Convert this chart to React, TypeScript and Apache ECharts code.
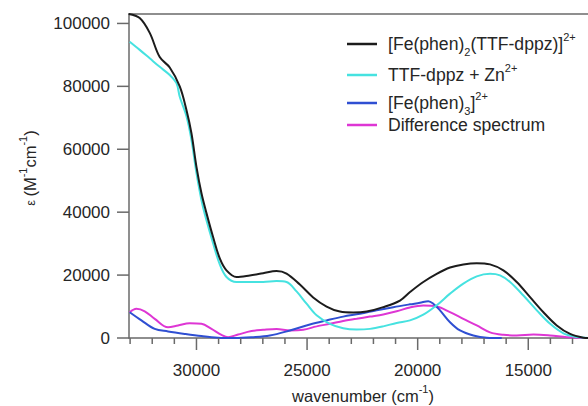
import React, { useEffect, useRef } from "react";
import * as echarts from "echarts";

// ---- data (wavenumber in cm^-1, epsilon in M^-1 cm^-1) ----
const blackWn = [33063, 32566, 32113, 31661, 31208, 30756, 30453, 30227, 30000, 29774, 29548, 29249, 28946, 28643, 28191, 27588, 26986, 26380, 25928, 25326, 24724, 24118, 23516, 22914, 22307, 21556, 20801, 20348, 19746, 19140, 18538, 17936, 17330, 16728, 16126, 15522, 14919, 14316, 13712, 13110, 12506, 12294];
const blackEps = [103000, 101700, 97000, 89300, 86000, 80000, 72500, 65100, 54400, 46000, 39700, 32100, 25300, 21500, 19400, 19900, 20600, 21300, 20500, 17000, 12900, 10000, 8400, 8100, 8400, 9800, 11900, 14600, 17800, 20400, 22400, 23400, 23800, 23400, 21500, 17800, 13000, 8200, 4000, 1300, 100, 0];

const cyanWn = [33018, 32566, 32113, 31661, 31208, 30905, 30756, 30453, 30227, 30000, 29774, 29548, 29249, 28946, 28643, 28191, 27588, 26986, 26380, 25928, 25475, 25023, 24570, 23968, 23367, 22760, 22158, 21556, 20950, 20348, 19746, 19140, 18538, 17936, 17330, 16728, 16276, 15823, 15221, 14615, 14012, 13410, 12805, 12294];
const cyanEps = [94200, 91600, 88900, 86200, 83600, 81000, 76700, 70500, 63000, 52400, 43800, 37400, 30100, 23400, 19400, 17800, 17800, 17800, 18100, 17800, 14800, 10900, 7200, 4500, 3100, 2700, 2900, 3700, 4800, 5600, 7400, 10400, 14100, 17300, 19600, 20400, 19900, 17800, 13500, 8800, 4500, 1500, 300, 0];

const blueWn = [33018, 32489, 31887, 31285, 30529, 29774, 29023, 28267, 27511, 26683, 25778, 24873, 24118, 23367, 22611, 21855, 21104, 20348, 19896, 19520, 19294, 18991, 18538, 18086, 17484, 16878, 16200];
const blueEps = [8200, 5600, 2900, 2100, 1300, 600, 100, 0, 250, 800, 2400, 4300, 5600, 6800, 7700, 8800, 9800, 10700, 11200, 11700, 10900, 8800, 5000, 2400, 800, 100, 0];

const diffWn = [33018, 32715, 32339, 31887, 31285, 30833, 30303, 29774, 29321, 28869, 28570, 28118, 27511, 26986, 26380, 25778, 25175, 24570, 23968, 23367, 22760, 22158, 21556, 20950, 20348, 19746, 19140, 18538, 17936, 17330, 16728, 16126, 15522, 14767, 14012, 13257, 12506, 12294];
const diffEps = [8200, 9300, 8500, 6100, 3400, 4000, 4700, 4500, 2900, 1000, 250, 1100, 2200, 2600, 2900, 2400, 2600, 3700, 4500, 5400, 6100, 6800, 7500, 8500, 9700, 10300, 10000, 8200, 6100, 4000, 1800, 1000, 800, 1100, 800, 250, 0, 0];

// tick values
const xMajorTicks = [15000, 20000, 25000, 30000];
const xMinorTicks = [13000, 14000, 16000, 17000, 18000, 19000, 21000, 22000, 23000, 24000, 26000, 27000, 28000, 29000, 31000, 32000, 33000];
const yTicks = [0, 20000, 40000, 60000, 80000, 100000];

// axis ranges
const X_LEFT = 33050;
const X_RIGHT = 12300;
const Y_MAX = 103000;
const X_LABEL_FIRST = 30000;
const X_LABEL_LAST = 10000;
const X_LABEL_STEP = 5000;
const Y_TOP_TICK = 100000;
const Y_STEP = 20000;

const seriesNames = [
  "[Fe(phen)2(TTF-dppz)]2+",
  "TTF-dppz + Zn2+",
  "[Fe(phen)3]2+",
  "Difference spectrum",
];
const legendRich = [
  "{n|[Fe(phen)}{sub|2}{n|(TTF-dppz)]}{sup|2+}",
  "{n|TTF-dppz + Zn}{sup|2+}",
  "{n|[Fe(phen)}{sub|3}{n|]}{sup|2+}",
  "{n|Difference spectrum}",
];
const colors = ["#1c1c1c", "#46e2e0", "#2f4fd2", "#de36d4"];

const FONT = '"Liberation Sans", Arial, Helvetica, sans-serif';
const TEXT = "#262626";
const AXIS = "#6a6a6a";

const PLOT_L = 129;
const PLOT_T = 14;
const PLOT_B = 338;
const W = 588;
const H = 406;

export default function App() {
  const ref = useRef<HTMLDivElement>(null);
  useEffect(() => {
    const chart = echarts.init(ref.current as HTMLDivElement, null, { renderer: "svg" });
    const pairs = (xs: number[], ys: number[]) => xs.map((x, i) => [x, ys[i]]);

    const pxPerX = (W - PLOT_L) / (X_LEFT - X_RIGHT);
    const xPx = (v: number) => PLOT_L + (X_LEFT - v) * pxPerX;
    const yPx = (v: number) => PLOT_B - (v / Y_MAX) * (PLOT_B - PLOT_T);

    const lineSt = () => ({ color: AXIS, width: 1.5 });
    const fmt = (v: number) => String(v);

    const rich = {
      n: { fontSize: 17.6, fontFamily: FONT, color: TEXT, lineHeight: 26, verticalAlign: "middle" },
      sup: { fontSize: 11, fontFamily: FONT, color: TEXT, verticalAlign: "top" },
      sub: { fontSize: 11, fontFamily: FONT, color: TEXT, verticalAlign: "bottom" },
      e: { fontSize: 13, fontFamily: FONT, color: TEXT, verticalAlign: "middle" },
    };
    const titleRich = { ...rich, n: { ...rich.n, fontSize: 16.5 } };
    const legendY = [44, 75, 103, 125];
    const dataSets = [
      pairs(blackWn, blackEps),
      pairs(cyanWn, cyanEps),
      pairs(blueWn, blueEps),
      pairs(diffWn, diffEps),
    ];
    const order = [3, 2, 1, 0];
    const bottom = H - PLOT_B;
    const gridBase = { outerBoundsMode: "none", containLabel: false, top: PLOT_T, bottom };

    chart.setOption({
      animation: false,
      textStyle: { fontFamily: FONT },
      grid: [
        { ...gridBase, left: PLOT_L, right: 0 },
        { ...gridBase, left: xPx(X_LABEL_FIRST), right: W - xPx(X_LABEL_LAST) },
        { ...gridBase, left: PLOT_L, right: 0, top: yPx(Y_TOP_TICK) },
      ],
      xAxis: [
        {
          type: "value",
          gridIndex: 0,
          min: X_RIGHT,
          max: X_LEFT,
          inverse: true,
          position: "bottom",
          axisLine: { show: true, onZero: false, lineStyle: lineSt() },
          axisTick: { show: false },
          axisLabel: { show: false },
          splitLine: { show: false },
        },
        {
          type: "value",
          gridIndex: 0,
          min: X_RIGHT,
          max: X_LEFT,
          inverse: true,
          position: "top",
          axisLine: { show: true, onZero: false, lineStyle: lineSt() },
          axisTick: { show: false },
          axisLabel: { show: false },
          splitLine: { show: false },
        },
        {
          type: "value",
          gridIndex: 1,
          min: X_LABEL_LAST,
          max: X_LABEL_FIRST,
          interval: X_LABEL_STEP,
          inverse: true,
          position: "bottom",
          axisLine: { show: false, onZero: false },
          axisTick: { show: false },
          axisLabel: { show: true, margin: 24, fontSize: 17, color: TEXT, fontFamily: FONT, formatter: fmt, showMinLabel: false },
          splitLine: { show: false },
        },
        { type: "value", gridIndex: 2, show: false, min: 0, max: 1 },
      ],
      yAxis: [
        {
          type: "value",
          gridIndex: 0,
          min: 0,
          max: Y_MAX,
          axisLine: { show: true, onZero: false, lineStyle: lineSt() },
          axisTick: { show: false },
          axisLabel: { show: false },
          splitLine: { show: false },
        },
        { type: "value", gridIndex: 1, show: false, min: 0, max: 1 },
        {
          type: "value",
          gridIndex: 2,
          min: 0,
          max: Y_TOP_TICK,
          interval: Y_STEP,
          axisLine: { show: false, onZero: false },
          axisTick: { show: false },
          axisLabel: { show: true, margin: 19, fontSize: 17, color: TEXT, fontFamily: FONT, formatter: fmt },
          splitLine: { show: false },
        },
      ],
      series: order.map((i) => ({
        name: seriesNames[i],
        type: "line",
        xAxisIndex: 0,
        yAxisIndex: 0,
        data: dataSets[i],
        showSymbol: false,
        symbol: "none",
        smooth: 0.35,
        lineStyle: { color: colors[i], width: 2 },
        itemStyle: { color: colors[i] },
        z: 10 - i,
      })),
    });

    // tick marks as thin filled rects, placed with the chart's own coordinate conversion
    const finder = { xAxisIndex: 0, yAxisIndex: 0 };
    const xTick = (v: number, len: number) => {
      const p = chart.convertToPixel(finder, [v, 0]) as number[];
      return { type: "rect", z: 50, silent: true, shape: { x: p[0] - 0.75, y: p[1], width: 1.5, height: len }, style: { fill: AXIS } };
    };
    const yTick = (v: number, len: number) => {
      const p = chart.convertToPixel(finder, [X_LEFT, v]) as number[];
      return { type: "rect", z: 50, silent: true, shape: { x: p[0] - len, y: p[1] - 0.75, width: len, height: 1.5 }, style: { fill: AXIS } };
    };

    chart.setOption({
      graphic: [
        ...xMajorTicks.map((v) => xTick(v, 12)),
        ...xMinorTicks.map((v) => xTick(v, 6)),
        ...yTicks.map((v) => yTick(v, 12)),
        ...legendY.map((y, i) => ({
          type: "line",
          shape: { x1: 347, y1: y, x2: 377, y2: y },
          style: { stroke: colors[i], lineWidth: 2.5 },
        })),
        ...legendY.map((y, i) => ({
          type: "text",
          x: 388,
          y,
          style: { text: legendRich[i], rich, align: "left", verticalAlign: "middle", fill: TEXT },
        })),
        {
          type: "text",
          x: 363,
          y: 396,
          style: { text: "{n|wavenumber (cm}{sup|-1}{n|)}", rich: titleRich, align: "center", verticalAlign: "middle", fill: TEXT },
        },
        {
          type: "text",
          x: 30,
          y: 168,
          rotation: Math.PI / 2,
          style: { text: "{e|ε} {n|(M}{sup|-1}{n|cm}{sup|-1}{n|)}", rich: titleRich, align: "center", verticalAlign: "middle", fill: TEXT },
        },
      ],
    });
    return () => chart.dispose();
  }, []);
  return <div ref={ref} style={{ position: "absolute", left: 0, top: 0, width: W, height: H }} />;
}
